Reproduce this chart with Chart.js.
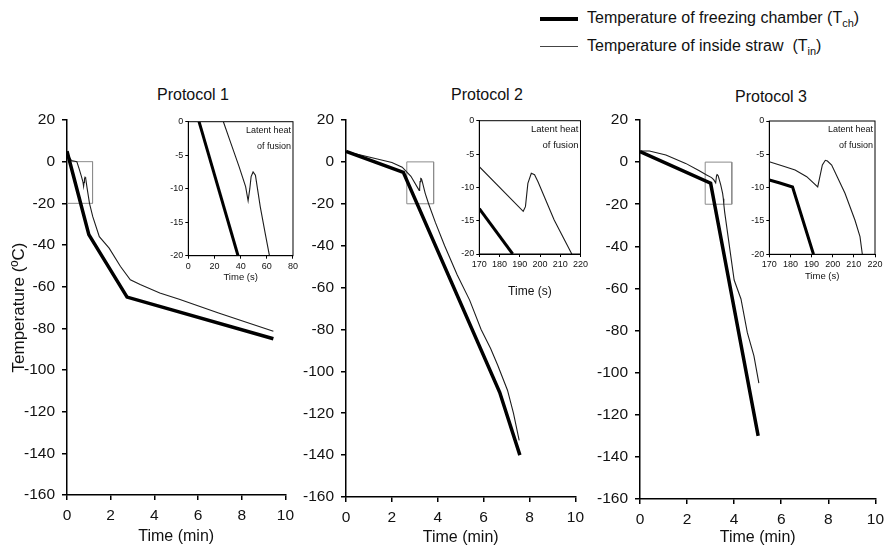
<!DOCTYPE html>
<html><head><meta charset="utf-8">
<script src="https://cdn.jsdelivr.net/npm/chart.js@4.4.0/dist/chart.umd.min.js"></script>
<style>
html,body{margin:0;padding:0;background:#fff;width:890px;height:549px;overflow:hidden;font-family:"Liberation Sans",Arial,Helvetica,sans-serif;color:#111}
.box{position:absolute}
.ptitle{position:absolute;font-size:16px;line-height:16px;transform:translateX(-50%);white-space:nowrap}
.leg{position:absolute;left:587px;font-size:16px;line-height:16px;white-space:nowrap}
.leg sub{font-size:11px;vertical-align:-4px;line-height:0}
.ln{position:absolute;left:540px;width:38px}
</style></head><body>

<div class="ln" style="top:17px;height:4px;background:#000"></div>
<div class="leg" id="leg1" style="top:10px"></div>
<div class="ln" style="top:46px;height:1px;background:#444"></div>
<div class="leg" id="leg2" style="top:38px"></div>

<div class="ptitle" id="t1" style="left:193px;top:87px"></div>
<div class="ptitle" id="t2" style="left:487px;top:87px"></div>
<div class="ptitle" id="t3" style="left:771px;top:89px"></div>

<div class="box" style="left:0;top:60px"><canvas id="m1" width="300" height="489"></canvas></div>
<div class="box" style="left:300px;top:60px"><canvas id="m2" width="290" height="489"></canvas></div>
<div class="box" style="left:590px;top:60px"><canvas id="m3" width="300" height="489"></canvas></div>
<div class="box" style="left:160px;top:105px"><canvas id="i1" width="140" height="195"></canvas></div>
<div class="box" style="left:450px;top:105px"><canvas id="i2" width="140" height="195"></canvas></div>
<div class="box" style="left:740px;top:105px"><canvas id="i3" width="148" height="195"></canvas></div>

<script>
// ---------- texts ----------
const protocolTitles = ['Protocol 1', 'Protocol 2', 'Protocol 3'];
const legendTexts = ['Temperature of freezing chamber (T<sub>ch</sub>)', 'Temperature of inside straw&nbsp; (T<sub>in</sub>)'];
const mainXTitle = 'Time (min)';
const mainYTitle = 'Temperature (ºC)';
const insetXTitle = 'Time (s)';
const insetNote = ['Latent heat', 'of fusion'];

// ---------- ticks ----------
const mainTimeTicks = [0, 2, 4, 6, 8, 10];
const mainTempTicks = [-160, -140, -120, -100, -80, -60, -40, -20, 0, 20];
const inset1TimeTicks = [0, 20, 40, 60, 80];
const inset23TimeTicks = [170, 180, 190, 200, 210, 220];
const insetTempTicks = [-20, -15, -10, -5, 0];

// ---------- Protocol 1 (time in min, temperature in °C) ----------
const p1Chamber = [[0,5],[1.0,-35],[2.75,-65],[9.45,-85]];
const p1Straw = [[0,5],[0.1,2.2],[0.2,0.6],[0.45,0],[0.55,-3.2],[0.65,-6.7],[0.73,-9.7],[0.76,-11.8],[0.78,-10],[0.8,-8.2],[0.825,-7.5],[0.855,-8],[0.92,-12.7],[0.98,-16.7],[1.03,-20],[1.18,-26.4],[1.48,-36],[1.93,-41.5],[2.45,-50.3],[2.9,-56.7],[3.35,-59],[4.25,-63],[5.14,-66],[6.94,-72.6],[9.45,-81.4]];
const p1Box = [[0,0],[1.17,0],[1.17,-20],[0,-20],[0,0]];
// inset 1 (time in s)
const p1InsetChamber = [[8.2,0],[38,-20]];
const p1InsetStraw = [[26.8,0],[32.5,-3.2],[38.8,-6.7],[43.8,-9.7],[45.7,-11.8],[47,-10],[48,-8.2],[49.5,-7.5],[51.3,-8],[55,-12.7],[58.8,-16.7],[62,-20]];

// ---------- Protocol 2 ----------
const p2Chamber = [[0,5],[2.5,-5],[6.7,-110],[7.58,-140]];
const p2Straw = [[0,5],[1,2.3],[2,-0.3],[2.45,-2.5],[2.83,-6.9],[3.19,-13.6],[3.21,-12.9],[3.23,-9.4],[3.26,-7.9],[3.29,-8.1],[3.32,-9.2],[3.45,-14.9],[3.6,-20],[3.9,-29],[4.3,-40],[4.85,-54],[5.39,-66],[5.89,-80],[6.3,-89],[6.61,-97],[7.04,-109],[7.3,-120],[7.55,-133]];
const p2Box = [[2.65,0],[3.82,0],[3.82,-20],[2.65,-20],[2.65,0]];
const p2InsetChamber = [[170,-13.2],[186.5,-20]];
const p2InsetStraw = [[170,-6.9],[191.7,-13.6],[192.8,-12.9],[194,-9.4],[195.7,-7.9],[197.3,-8.1],[199,-9.15],[207,-14.9],[215.7,-20]];

// ---------- Protocol 3 ----------
const p3Chamber = [[0,5],[3.0,-10],[5.02,-130]];
const p3Straw = [[0,5.3],[0.4,5.3],[1.1,3.4],[1.94,-0.6],[2.5,-4],[2.83,-6.1],[3.04,-7.35],[3.13,-8.35],[3.215,-9.9],[3.25,-6.6],[3.275,-5.9],[3.29,-6],[3.325,-6.6],[3.43,-10.85],[3.51,-14.85],[3.54,-17.35],[3.56,-20],[3.6,-24],[4.0,-56],[4.29,-65],[4.56,-81],[4.84,-92],[5.05,-105]];
const p3Box = [[2.77,0],[3.9,0],[3.9,-20],[2.77,-20],[2.77,0]];
const p3InsetChamber = [[170,-8.85],[175,-9.3],[181,-9.9],[190.9,-20]];
const p3InsetStraw = [[170,-6.1],[176,-6.7],[182.2,-7.35],[187.7,-8.35],[192.9,-9.9],[195.1,-6.6],[196.5,-5.9],[197.5,-6],[199.5,-6.6],[205.8,-10.85],[210.5,-14.85],[212.9,-17.35],[214,-20]];

// ---------- drawing ----------
document.getElementById('leg1').innerHTML = legendTexts[0];
document.getElementById('leg2').innerHTML = legendTexts[1];
['t1','t2','t3'].forEach((id,i)=>{ document.getElementById(id).textContent = protocolTitles[i]; });

const FONT = '"Liberation Sans", Arial, Helvetica, sans-serif';
const xy = arr => arr.map(p => ({x:p[0], y:p[1]}));
const ticksFrom = list => (s => { s.ticks = list.map(v => ({value:v})); });

function axis(o){
  return {
    type:'linear', min:o.min, max:o.max,
    afterBuildTicks: ticksFrom(o.ticks),
    afterFit: o.fit,
    grid:{drawOnChartArea:false, drawTicks:true, tickLength:o.tl, color:'#000', lineWidth:o.lw},
    border:{display:true, color:'#000', width:o.lw},
    ticks:{color:'#111', font:{family:FONT, size:o.fs}, padding:o.pad, maxRotation:0, autoSkip:false},
    title:o.title ? {display:true, text:o.title, color:'#111', font:{family:FONT, size:o.tfs}, padding:o.tpad} : {display:false}
  };
}

function makeMain(id, o){
  new Chart(document.getElementById(id), {
    type:'line',
    data:{datasets:[
      {label:'Tch', data:xy(o.chamber), borderColor:'#000', borderWidth:3.5},
      {label:'Tin', data:xy(o.straw), borderColor:'#1c1c1c', borderWidth:1.1},
      {label:'zoom', data:xy(o.box), borderColor:'#8c8c8c', borderWidth:1}
    ]},
    options:{
      responsive:false, animation:false, devicePixelRatio:1,
      layout:{padding:{top:o.padTop, right:o.padRight, left:0, bottom:0}},
      elements:{point:{radius:0}, line:{tension:0}},
      plugins:{legend:{display:false}, tooltip:{enabled:false}},
      scales:{
        x: axis({min:0, max:10, ticks:mainTimeTicks, fit:s=>{s.height=o.xh;}, tl:5, lw:1.5, fs:15.5, pad:6,
                 title:mainXTitle, tfs:16, tpad:{top:0,bottom:o.xtPad}}),
        y: axis({min:-160, max:20, ticks:mainTempTicks, fit:s=>{s.width=o.yw;}, tl:5, lw:1.5, fs:15.5, pad:7,
                 title:o.yTitle, tfs:17, tpad:{top:9,bottom:0}})
      }
    }
  });
}

const insetDecor = {
  id:'insetDecor',
  beforeDraw(chart){
    const {ctx, chartArea:a} = chart;
    ctx.save(); ctx.fillStyle='#fff'; ctx.fillRect(a.left, a.top, a.right-a.left, a.bottom-a.top); ctx.restore();
  },
  afterDraw(chart){
    const {ctx, chartArea:a} = chart;
    const fs = chart.options.plugins.insetDecor.noteSize;
    ctx.save();
    ctx.strokeStyle='#000'; ctx.lineWidth=1;
    ctx.strokeRect(a.left, a.top, a.right-a.left, a.bottom-a.top);
    ctx.fillStyle='#111'; ctx.font = fs + 'px ' + FONT; ctx.textAlign='right'; ctx.textBaseline='middle';
    ctx.fillText(insetNote[0], a.right-2, a.top+9);
    ctx.fillText(insetNote[1], a.right-2, a.top+25);
    ctx.restore();
  }
};

function makeInset(id, o){
  new Chart(document.getElementById(id), {
    type:'line',
    data:{datasets:[
      {label:'Tch', data:xy(o.chamber), borderColor:'#000', borderWidth:3},
      {label:'Tin', data:xy(o.straw), borderColor:'#1c1c1c', borderWidth:1.1}
    ]},
    options:{
      responsive:false, animation:false, devicePixelRatio:1,
      layout:{padding:{top:o.padTop, right:o.padRight, left:0, bottom:0}},
      elements:{point:{radius:0}, line:{tension:0}},
      plugins:{legend:{display:false}, tooltip:{enabled:false}, insetDecor:{noteSize:o.noteSize}},
      scales:{
        x: axis({min:o.xmin, max:o.xmax, ticks:o.xticks, fit:s=>{s.height=o.xh;}, tl:3, lw:1, fs:o.fs, pad:2,
                 title:insetXTitle, tfs:o.tfs, tpad:{top:0,bottom:o.xtPad}}),
        y: axis({min:-20, max:0, ticks:insetTempTicks, fit:s=>{s.width=o.yw;}, tl:3, lw:1, fs:o.fs, pad:2})
      }
    },
    plugins:[insetDecor]
  });
}

makeMain('m1', {chamber:p1Chamber, straw:p1Straw, box:p1Box, padTop:60, padRight:10, yw:67, xh:54, xtPad:2.4, yTitle:mainYTitle});
makeMain('m2', {chamber:p2Chamber, straw:p2Straw, box:p2Box, padTop:60, padRight:11, yw:46, xh:52, xtPad:1.4});
makeMain('m3', {chamber:p3Chamber, straw:p3Straw, box:p3Box, padTop:60, padRight:9, yw:50, xh:50, xtPad:1.4});

makeInset('i1', {chamber:p1InsetChamber, straw:p1InsetStraw, xmin:0, xmax:80, xticks:inset1TimeTicks,
  padTop:16.7, padRight:5, yw:28.3, xh:44.3, xtPad:16.6, fs:9, tfs:9.5, noteSize:9});
makeInset('i2', {chamber:p2InsetChamber, straw:p2InsetStraw, xmin:170, xmax:220, xticks:inset23TimeTicks,
  padTop:15.7, padRight:5.5, yw:29.3, xh:46, xtPad:1.1, fs:9, tfs:12, noteSize:9.5});
makeInset('i3', {chamber:p3InsetChamber, straw:p3InsetStraw, xmin:170, xmax:220, xticks:inset23TimeTicks,
  padTop:16, padRight:13, yw:29.3, xh:45.7, xtPad:17.9, fs:9, tfs:9.5, noteSize:9});
</script>
</body></html>
